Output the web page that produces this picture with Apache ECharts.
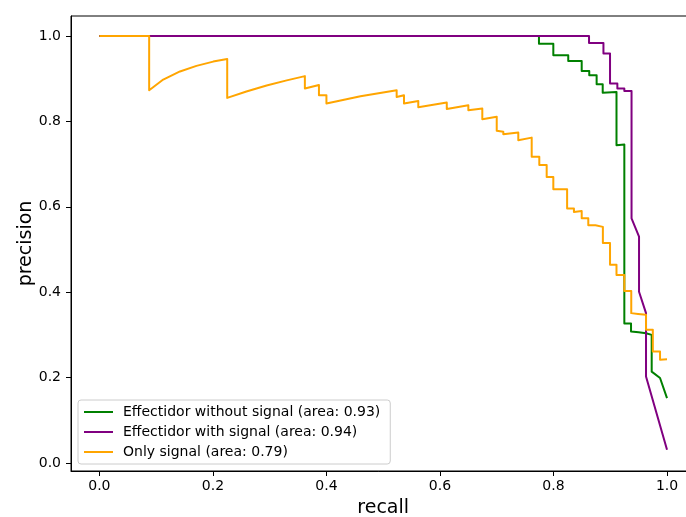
<!DOCTYPE html>
<html>
<head>
<meta charset="utf-8">
<script src="https://cdn.jsdelivr.net/npm/echarts@6/dist/echarts.min.js"></script>
<style>
  html, body { margin: 0; padding: 0; background: #fff; }
  #chart { width: 686px; height: 517px; }
</style>
</head>
<body>
<div id="chart"></div>
<script>
// Precision-recall curves for the three classifiers.
const seriesNames = [
  'Effectidor without signal (area: 0.93)',
  'Effectidor with signal (area: 0.94)',
  'Only signal (area: 0.79)'
];

const withoutSignalRecall = [0, 0.7744, 0.7744, 0.7997, 0.7997, 0.826, 0.826, 0.8497, 0.8497, 0.863, 0.863, 0.876, 0.876, 0.8867, 0.8867, 0.911, 0.911, 0.9248, 0.9248, 0.9366, 0.9366, 0.950, 0.950, 0.963, 0.963, 0.973, 0.973, 0.9877, 1.0];
const withoutSignalPrecision = [1, 1, 0.982, 0.982, 0.955, 0.955, 0.9416, 0.9416, 0.918, 0.918, 0.908, 0.908, 0.887, 0.887, 0.867, 0.869, 0.744, 0.746, 0.327, 0.327, 0.308, 0.306, 0.304, 0.304, 0.300, 0.300, 0.214, 0.199, 0.152];

const withSignalRecall = [0, 0.8626, 0.8626, 0.888, 0.888, 0.8996, 0.8996, 0.9125, 0.9125, 0.9248, 0.9248, 0.9375, 0.9375, 0.9507, 0.9507, 0.963, 0.963, 1.0];
const withSignalPrecision = [1, 1, 0.9836, 0.9836, 0.959, 0.959, 0.889, 0.889, 0.877, 0.877, 0.871, 0.871, 0.573, 0.530, 0.401, 0.351, 0.2025, 0.031];

const onlySignalRecall = [0, 0.0877, 0.0877, 0.1125, 0.142, 0.171, 0.2005, 0.2252, 0.2252, 0.259, 0.2946, 0.33, 0.362, 0.362, 0.3868, 0.3868, 0.40, 0.40, 0.46, 0.5237, 0.5237, 0.5366, 0.5366, 0.5618, 0.5618, 0.612, 0.612, 0.650, 0.650, 0.6746, 0.6746, 0.700, 0.700, 0.7116, 0.7116, 0.738, 0.738, 0.7616, 0.7616, 0.775, 0.775, 0.788, 0.788, 0.7997, 0.7997, 0.824, 0.824, 0.836, 0.836, 0.8497, 0.8497, 0.8613, 0.8613, 0.874, 0.874, 0.887, 0.887, 0.8996, 0.8996, 0.911, 0.911, 0.9248, 0.9248, 0.937, 0.937, 0.949, 0.949, 0.963, 0.963, 0.975, 0.975, 0.9877, 0.9877, 1.0];
const onlySignalPrecision = [1, 1, 0.873, 0.898, 0.917, 0.930, 0.940, 0.946, 0.855, 0.870, 0.884, 0.896, 0.906, 0.877, 0.885, 0.861, 0.861, 0.842, 0.859, 0.873, 0.857, 0.861, 0.842, 0.848, 0.833, 0.844, 0.829, 0.838, 0.826, 0.830, 0.805, 0.811, 0.778, 0.776, 0.770, 0.774, 0.756, 0.762, 0.717, 0.717, 0.698, 0.698, 0.670, 0.670, 0.641, 0.641, 0.596, 0.596, 0.588, 0.590, 0.573, 0.573, 0.557, 0.557, 0.553, 0.553, 0.515, 0.515, 0.464, 0.464, 0.440, 0.440, 0.403, 0.403, 0.351, 0.349, 0.347, 0.347, 0.312, 0.312, 0.261, 0.261, 0.242, 0.243];

const tickValues = [0, 0.2, 0.4, 0.6, 0.8, 1.0];

const zip = (xs, ys) => xs.map((x, i) => [x, ys[i]]);

const FONT = 'DejaVu Sans';
const chart = echarts.init(document.getElementById('chart'), null, { renderer: 'canvas' });

function axisCommon(name, nameGap, labelMargin) {
  return {
    type: 'value',
    name: name,
    nameLocation: 'middle',
    nameGap: nameGap,
    nameMoveOverlap: false,
    nameTextStyle: { fontFamily: FONT, fontSize: 19, color: '#000' },
    axisLine: { show: true, onZero: false, lineStyle: { color: '#000', width: 1 } },
    axisTick: { show: true, inside: false, length: 5, lineStyle: { color: '#000', width: 1 }, customValues: tickValues },
    axisLabel: {
      fontFamily: FONT, fontSize: 14, color: '#000', margin: labelMargin,
      customValues: tickValues,
      formatter: v => v.toFixed(1)
    },
    splitLine: { show: false }
  };
}

const xAxis = Object.assign(axisCommon('recall', 28, 8), { min: -0.05, max: 1.05 });
const yAxis = Object.assign(axisCommon('precision', 35, 10), { min: -0.0187, max: 1.0468 });

chart.setOption({
  animation: false,
  backgroundColor: '#fff',
  grid: {
    left: 71, top: 16, right: -9.4, bottom: 46,
    containLabel: false,
    outerBoundsMode: 'none',
    show: true, borderColor: '#000', borderWidth: 1, backgroundColor: 'transparent'
  },
  xAxis: xAxis,
  yAxis: yAxis,
  legend: {
    orient: 'vertical',
    left: 78,
    bottom: 53,
    icon: 'rect',
    itemWidth: 29,
    itemHeight: 2,
    itemGap: 4,
    padding: [4, 10, 4, 6],
    backgroundColor: 'rgba(255,255,255,0.8)',
    borderColor: '#cccccc',
    borderWidth: 1,
    borderRadius: 3,
    textStyle: { fontFamily: FONT, fontSize: 14, color: '#000', lineHeight: 16, padding: [0, 0, 0, 5] },
    data: seriesNames
  },
  series: [
    {
      name: seriesNames[0], type: 'line', showSymbol: false, symbol: 'none',
      data: zip(withoutSignalRecall, withoutSignalPrecision),
      lineStyle: { color: '#008000', width: 2, join: 'round' },
      itemStyle: { color: '#008000' }, z: 2
    },
    {
      name: seriesNames[1], type: 'line', showSymbol: false, symbol: 'none',
      data: zip(withSignalRecall, withSignalPrecision),
      lineStyle: { color: '#800080', width: 2, join: 'round' },
      itemStyle: { color: '#800080' }, z: 3
    },
    {
      name: seriesNames[2], type: 'line', showSymbol: false, symbol: 'none',
      data: zip(onlySignalRecall, onlySignalPrecision),
      lineStyle: { color: '#FFA500', width: 2, join: 'round' },
      itemStyle: { color: '#FFA500' }, z: 4
    }
  ]
});
</script>
</body>
</html>
